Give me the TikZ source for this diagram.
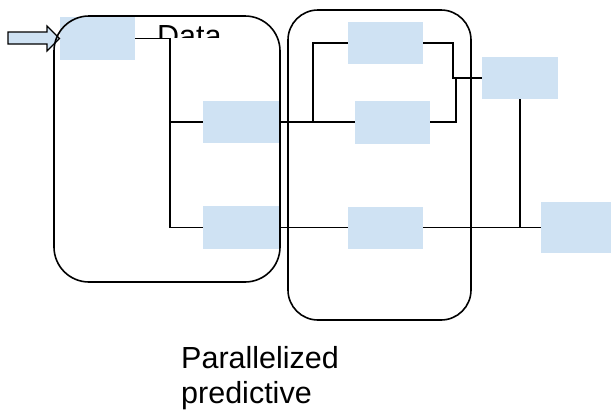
\documentclass[tikz,border=0pt]{standalone}
\usepackage{fontspec}
\setmainfont{Liberation Sans}
\definecolor{stagefill}{RGB}{207,226,243}
\tikzset{
  stagebox/.style={rectangle, fill=stagefill, inner sep=0pt, minimum width=76pt, minimum height=42pt},
  wire/.style={draw=black, line width=1.3pt},
  group/.style={draw=black, line width=1.6pt},
  label/.style={inner sep=0pt, font=\fontsize{30.5}{35}\selectfont}
}
\begin{document}
\begin{tikzpicture}[x=1pt,y=-1pt]
\clip (0,0) rectangle (611,410);
\fill[white] (0,0) rectangle (611,410);

% processing stages
\node[stagebox, minimum width=75pt, minimum height=43pt] (A) at (97.5,38.5) {};
\node[stagebox] (B) at (241,122) {};
\node[stagebox, minimum height=43pt] (C) at (241,227.5) {};
\node[stagebox, minimum width=75pt] (D) at (385.5,43) {};
\node[stagebox, minimum width=75pt, minimum height=43pt] (E) at (392.5,122) {};
\node[stagebox] (F) at (520,78) {};
\node[stagebox, minimum width=75pt] (G) at (385.5,227.5) {};
\node[stagebox, minimum width=92pt, minimum height=51pt] (H) at (587,227.5) {};

% title partly hidden under the first stage group
\begin{scope}
  \clip (140,0) rectangle (240,37.5);
  \node[label, anchor=base west] (data) at (157,46.5) {Data};
\end{scope}

% input arrow
\filldraw[fill=stagefill, draw=black, line width=1.2pt]
  (8,32) -- (47,32) -- (47,26) -- (59.5,38.5) -- (47,51) -- (47,44) -- (8,44) -- cycle;

% split points of the wiring
\coordinate (sp1) at (170,0);
\coordinate (sp2) at (313,0);
\coordinate (sp3) at (453,0);
\coordinate (sp4) at (456,0);

% wiring
\draw[wire] (A.east) -- (A.east -| sp1) |- (C.west);
\draw[wire] (B.west) -- (B.west -| sp1);
\draw[wire] (B.east) -- (E.west);
\draw[wire] (B.east -| sp2) |- (D.west);
\draw[wire] (D.east) -- (D.east -| sp3) |- (F.west);
\draw[wire] (E.east) -| (sp4 |- F.west);
\draw[wire] (F.south) |- (H.west);
\draw[wire] (C.east) -- (G.west);
\draw[wire] (G.east) -- (H.west);

% stage groups
\draw[group, rounded corners=35pt] (54,16) rectangle (280,282);
\draw[group, rounded corners=30pt] (288,10) rectangle (471,320);

% caption (anchored on the baseline of its last line)
\node[label, anchor=base west, align=left] (caption) at (181,403) {Parallelized\\predictive};
\end{tikzpicture}
\end{document}
